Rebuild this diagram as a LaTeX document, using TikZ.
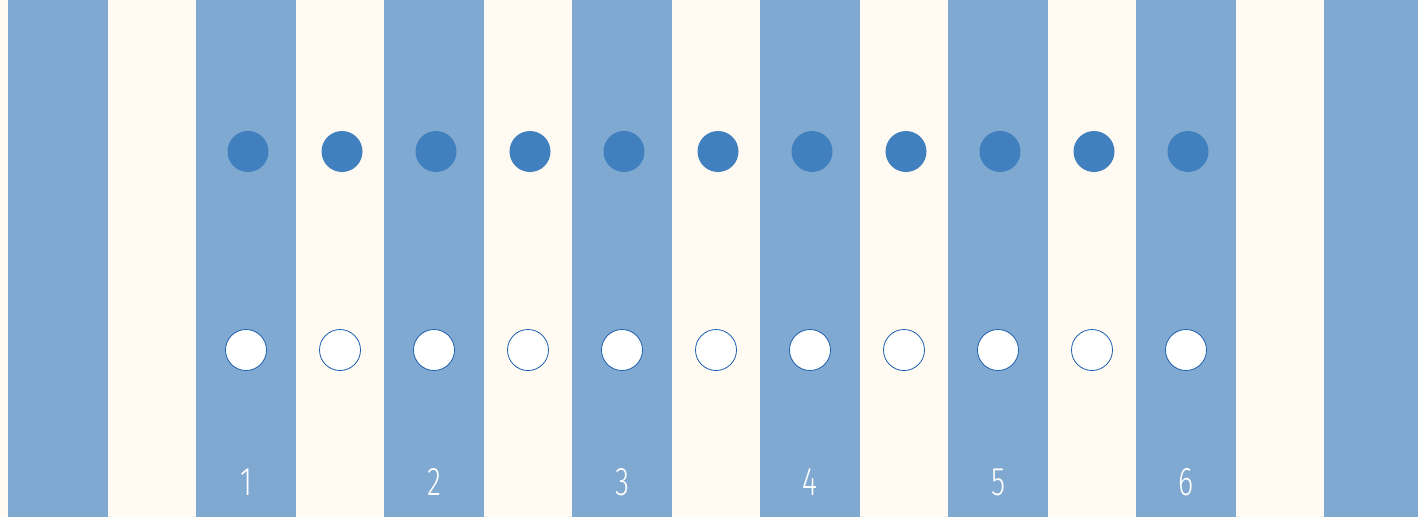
\documentclass[tikz,border=0pt]{standalone}
\usepackage{fontspec}
\newfontfamily\labfont{Fira Sans Light}[FakeStretch=0.72]
\definecolor{stripeblue}{RGB}{128,169,210}
\definecolor{creambg}{RGB}{255,250,242}
\definecolor{dotblue}{RGB}{64,128,190}
\definecolor{ringblue}{RGB}{30,95,175}
\tikzset{
  stripe/.style={fill=stripeblue, draw=none},
  fulldot/.style={circle, fill=dotblue, draw=none, minimum size=41pt, inner sep=0pt},
  emptydot/.style={circle, fill=white, draw=ringblue, line width=0.8pt, minimum size=41pt, inner sep=0pt},
  numlabel/.style={text=white, font=\labfont\fontsize{40}{40}\selectfont, inner sep=0pt, anchor=center}
}
\begin{document}
\begin{tikzpicture}[x=1pt,y=-1pt]
\useasboundingbox (0,0) rectangle (1418,517);
\fill[creambg] (0,0) rectangle (1418,517);
\foreach \i in {0,...,7} {
  \fill[stripeblue] ({8+188*\i},0) rectangle ({min(108+188*\i,1418)},517);
}
\foreach \i in {0,...,10} {
  \node[fulldot] (f\i) at ({248+94*\i},151.5) {};
  \node[emptydot] (e\i) at ({246+94*\i},350) {};
}
\foreach \i in {1,...,6} {
  \node[numlabel] (n\i) at ({246+188*(\i-1)},482) {\i};
}
\end{tikzpicture}
\end{document}
